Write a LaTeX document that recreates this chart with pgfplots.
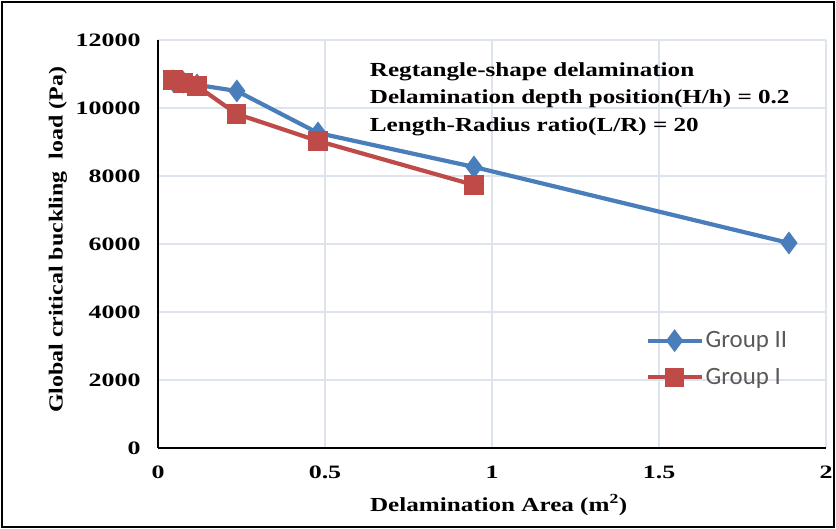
\documentclass[border=0pt]{standalone}
\usepackage{fontspec}
\setmainfont{Liberation Serif}
\newfontfamily\legfont{Carlito}
\usepackage{graphicx}
\usepackage{pgfplots}
\pgfplotsset{compat=1.18}
\newcommand\sx[2]{\scalebox{#1}[1]{#2}}
\newcommand\tk[1]{\sx{1.37}{#1}}
\definecolor{gblue}{HTML}{4A7EBB}
\definecolor{gred}{HTML}{BE4B48}
\definecolor{gridc}{HTML}{DDE4EE}
\definecolor{legtext}{HTML}{595959}
\begin{document}
\begin{tikzpicture}[x=1bp,y=1bp]
\useasboundingbox (0,0) rectangle (836,529);
\draw[line width=1.5bp,black] (2,2) rectangle (834,527);
\begin{axis}[
  at={(158bp,81bp)}, anchor=south west,
  scale only axis, width=668bp, height=408bp,
  xmin=0, xmax=2, ymin=0, ymax=12000,
  scaled y ticks=false, scaled x ticks=false,
  xtick={0,0.5,1,1.5,2}, xticklabels={\tk{0},\tk{0.5},\tk{1},\tk{1.5},\tk{2}},
  ytick={0,2000,4000,6000,8000,10000,12000},
  yticklabels={\tk{0},\tk{2000},\tk{4000},\tk{6000},\tk{8000},\tk{10000},\tk{12000}},
  axis x line*=bottom, axis y line*=left,
  axis line style={-, line width=2bp, black},
  major tick length=0pt,
  grid=major, grid style={gridc, line width=1.2bp},
  tick label style={font=\fontsize{19}{21}\selectfont\bfseries},
  /pgf/number format/assume math mode=true,
  yticklabel style={xshift=-14bp},
  xticklabel style={yshift=-14bp},
  xlabel={\sx{1.26}{Delamination Area (m\textsuperscript{2})}},
  ylabel={\sx{1.2}{Global critical buckling\ \ load (Pa)}},
  xlabel style={font=\fontsize{20}{22}\selectfont\bfseries, at={(axis description cs:0.51,-0.14)}, anchor=center},
  ylabel style={font=\fontsize{20}{22}\selectfont\bfseries, at={(axis description cs:-0.15,0.51)}, anchor=center, rotate=0},
  legend style={at={(axis description cs:0.725,0.295)}, anchor=north west, draw=none, fill=none,
    row sep=15bp,
    /tikz/every even column/.append style={column sep=0bp}},
  legend cell align=left,
  legend image code/.code={\draw[mark repeat=2,mark phase=2] plot coordinates {(0bp,0bp)(27bp,0bp)(54bp,0bp)};},
  clip=false,
]
\addplot[gblue, line width=4.2bp, mark=diamond*, mark size=8bp, mark options={solid, fill=gblue}]
  coordinates {(0.045,10800) (0.075,10760) (0.117,10680) (0.236,10500) (0.479,9265) (0.946,8265) (1.889,6030)};
\addlegendentry{\legfont\fontsize{25}{27}\selectfont\color{legtext}Group II}
\addplot[gred, line width=4.2bp, mark=square*, mark size=7.5bp, mark options={solid, fill=gred}]
  coordinates {(0.045,10824) (0.075,10735) (0.117,10647) (0.236,9823) (0.479,9030) (0.946,7735)};
\addlegendentry{\legfont\fontsize{25}{27}\selectfont\color{legtext}Group I}
\node[anchor=north west, align=left, font=\fontsize{20}{28}\selectfont\bfseries, inner sep=0pt]
  at (axis description cs:0.317,0.946)
  {\sx{1.26}{Regtangle-shape delamination}\\\sx{1.26}{Delamination depth position(H/h) = 0.2}\\\sx{1.26}{Length-Radius ratio(L/R) = 20}};
\end{axis}
\end{tikzpicture}
\end{document}
